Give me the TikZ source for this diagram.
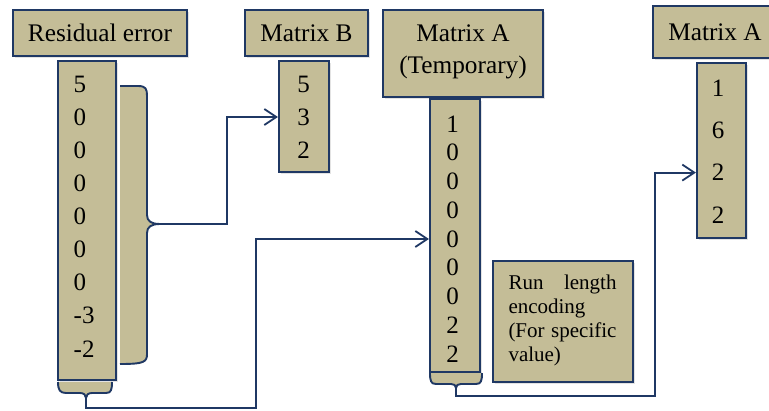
\documentclass[tikz,border=0pt]{standalone}
\usepackage{fontspec}
\setmainfont{Liberation Serif}
\usetikzlibrary{arrows.meta,shadows}
\definecolor{boxfill}{RGB}{196,189,151}
\definecolor{navy}{RGB}{31,56,100}
\begin{document}
\begin{tikzpicture}[x=1pt,y=-1pt,
  box/.style={draw=navy, line width=2.2pt, fill=boxfill, inner sep=0pt,
    drop shadow={opacity=0.22, shadow xshift=1.5pt, shadow yshift=-2pt}},
  hdr/.style={box, font=\fontsize{25.3}{30}\selectfont, align=center},
  htext/.style={font=\fontsize{25.3}{32}\selectfont, align=center, inner sep=0pt},
  val/.style={font=\fontsize{25}{28}\selectfont, inner sep=0pt},
  conn/.style={draw=navy, line width=1.8pt},
  arr/.style={conn, -{Straight Barb[length=12pt,width=16pt,line width=1.8pt]}},
  bracefill/.style={fill=boxfill},
  bracedraw/.style={draw=navy, line width=1.9pt, line join=round}]
\clip (0,0) rectangle (769,410);

% headers
\node[hdr, minimum width=174pt, minimum height=46pt] (hRes) at (100,33) {Residual error};
\node[hdr, minimum width=123pt, minimum height=46pt] (hB) at (306.5,33) {Matrix B};
\node[hdr, minimum width=160pt, minimum height=87pt] (hAT) at (463,53.5) {};
\node[htext] (hATt) at (463,51.5) {Matrix A\\(Temporary)};
\node[hdr, minimum width=124pt, minimum height=52pt] (hA) at (715,32) {Matrix A};

% columns
\node[box, minimum width=58pt, minimum height=319pt] (cRes) at (87,220.5) {};
\node[box, minimum width=50pt, minimum height=111pt] (cB) at (304,116.5) {};
\node[box, minimum width=50pt, minimum height=273pt] (cAT) at (455,235.5) {};
\node[box, minimum width=49pt, minimum height=175pt] (cA) at (721.5,150.5) {};

% values
\foreach \v [count=\i] in {5,0,0,0,0,0,0,-3,-2}
  \node[val, anchor=west] (r\i) at (73.5,{84+33.1*(\i-1)}) {\v};
\foreach \v [count=\i] in {5,3,2}
  \node[val] (b\i) at (303.5,{84+33*(\i-1)}) {\v};
\foreach \v [count=\i] in {1,0,0,0,0,0,0,2,2}
  \node[val] (t\i) at (452.5,{124+28.75*(\i-1)}) {\v};
\foreach \v [count=\i] in {1,6,2,2}
  \node[val] (a\i) at (718,{88+42.3*(\i-1)}) {\v};

% run length encoding box
\node[box, minimum width=140pt, minimum height=121pt] (rle) at (563,321.5) {};
\node[font=\fontsize{21}{24}\selectfont, text width=108pt, align=left, inner sep=0pt]
  (rleT) at (562.5,320) {Run\hfill length\\encoding\\(For\hfill specific\\value)};

% right brace beside residual column
\fill[bracefill] (120,86) -- (138,86) .. controls (146,86) and (147,89) .. (147,96)
  -- (147,215) .. controls (147,221) and (151,224) .. (160,224)
  .. controls (151,224) and (147,227) .. (147,233)
  -- (147,354) .. controls (147,362) and (144,364) .. (135,364) -- (120,364) -- cycle;
\draw[bracedraw] (120,86) -- (138,86) .. controls (146,86) and (147,89) .. (147,96)
  -- (147,215) .. controls (147,221) and (151,224) .. (160,224)
  .. controls (151,224) and (147,227) .. (147,233)
  -- (147,354) .. controls (147,362) and (144,364) .. (120,364);
\coordinate (bTip) at (160,224);

% bottom brace under residual column
\fill[bracefill] (58,382) .. controls (58,390) and (60,393) .. (66,393) -- (80,393)
  .. controls (84,393) and (86,395) .. (86,398) .. controls (86,395) and (88,393) .. (92,393)
  -- (106,393) .. controls (111,393) and (112,390) .. (112,382) -- cycle;
\draw[bracedraw] (58,382) .. controls (58,390) and (60,393) .. (66,393) -- (80,393)
  .. controls (84,393) and (86,395) .. (86,398) .. controls (86,395) and (88,393) .. (92,393)
  -- (106,393) .. controls (111,393) and (112,390) .. (112,382);
\coordinate (rTip) at (86,398);

% bottom brace under temporary column
\fill[bracefill] (430,373) .. controls (430,381) and (431,384) .. (436,384) -- (451,384)
  .. controls (454,384) and (456,385) .. (456,388) .. controls (456,385) and (458,384) .. (461,384)
  -- (476,384) .. controls (481,384) and (482,381) .. (482,373) -- cycle;
\draw[bracedraw] (430,373) .. controls (430,381) and (431,384) .. (436,384) -- (451,384)
  .. controls (454,384) and (456,385) .. (456,388) .. controls (456,385) and (458,384) .. (461,384)
  -- (476,384) .. controls (481,384) and (482,381) .. (482,373);
\coordinate (tTip) at (456,388);

% connectors
\coordinate (k1) at (227,224);
\coordinate (k2) at (256,408);
\coordinate (k3) at (655,396);
\draw[arr] (bTip) -- (k1) |- (cB.west |- b2);
\draw[arr] (rTip) |- (k2) |- (cAT.west |- t5);
\draw[arr] (tTip) |- (k3) |- (cA.west |- a3);
\end{tikzpicture}
\end{document}
